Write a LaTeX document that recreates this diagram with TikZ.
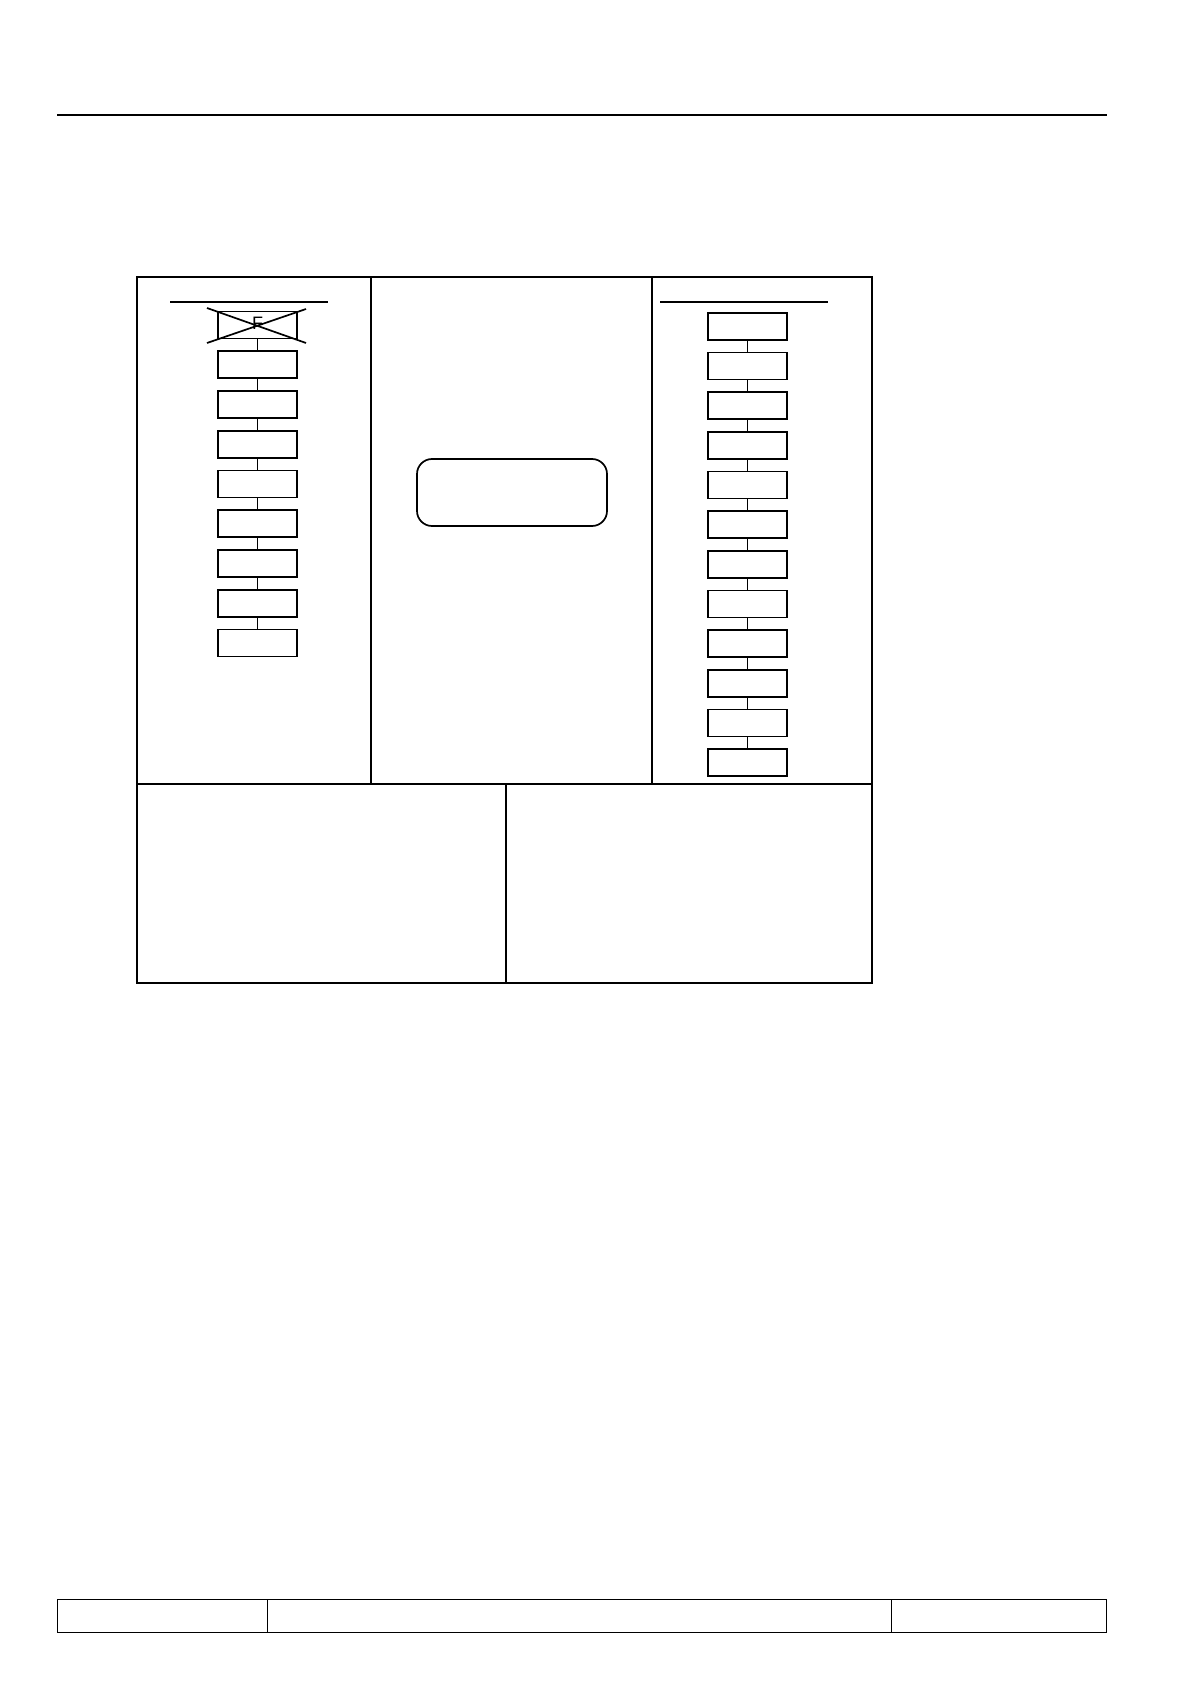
\documentclass[tikz,border=0pt]{standalone}
\usepackage{fontspec}
\setmainfont{Liberation Sans}
\begin{document}
\begin{tikzpicture}[x=0.5pt,y=-0.5pt,line width=0.85pt,
  blk/.style={draw,minimum width=39.5pt,minimum height=13.5pt,inner sep=0pt,outer sep=0pt},
  thin rule/.style={line width=0.5pt}]
\useasboundingbox (0,0) rectangle (1191,1684);

% page head rule
\draw[line width=1pt] (57,115) -- (1107,115);

% frame
\draw (137,277) rectangle (872,983);
\draw (137,784) -- (872,784);
\draw (371,277) -- (371,784);
\draw (652,277) -- (652,784);
\draw (506,784) -- (506,983);

% left column
\draw (170,302) -- (328,302);
\node[blk,font=\fontsize{9}{9}\selectfont] (l1) at (257.5,325) {\raisebox{1.5pt}{F}};
\draw (207,308) -- (306,343);
\draw (207,343) -- (306,309);
\node[blk] (l2) at (257.5,364.75) {};
\node[blk] (l3) at (257.5,404.5) {};
\node[blk] (l4) at (257.5,444.25) {};
\node[blk] (l5) at (257.5,484) {};
\node[blk] (l6) at (257.5,523.75) {};
\node[blk] (l7) at (257.5,563.5) {};
\node[blk] (l8) at (257.5,603.25) {};
\node[blk] (l9) at (257.5,643) {};
\draw (l1) -- (l2);
\draw (l2) -- (l3);
\draw (l3) -- (l4);
\draw (l4) -- (l5);
\draw (l5) -- (l6);
\draw (l6) -- (l7);
\draw (l7) -- (l8);
\draw (l8) -- (l9);

% middle
\node[draw,rounded corners=7.5pt,minimum width=95pt,minimum height=33.5pt] (mid) at (512,492.5) {};

% right column
\draw (660,302) -- (828,302);
\node[blk] (r1) at (747.5,326.5) {};
\node[blk] (r2) at (747.5,366.1) {};
\node[blk] (r3) at (747.5,405.8) {};
\node[blk] (r4) at (747.5,445.4) {};
\node[blk] (r5) at (747.5,485.1) {};
\node[blk] (r6) at (747.5,524.7) {};
\node[blk] (r7) at (747.5,564.3) {};
\node[blk] (r8) at (747.5,604) {};
\node[blk] (r9) at (747.5,643.6) {};
\node[blk] (r10) at (747.5,683.3) {};
\node[blk] (r11) at (747.5,722.9) {};
\node[blk] (r12) at (747.5,762.5) {};
\draw (r1) -- (r2);
\draw (r2) -- (r3);
\draw (r3) -- (r4);
\draw (r4) -- (r5);
\draw (r5) -- (r6);
\draw (r6) -- (r7);
\draw (r7) -- (r8);
\draw (r8) -- (r9);
\draw (r9) -- (r10);
\draw (r10) -- (r11);
\draw (r11) -- (r12);

% footer
\draw[thin rule] (57,1599) rectangle (1106,1632);
\draw[thin rule] (267,1599) -- (267,1632);
\draw[thin rule] (891,1599) -- (891,1632);
\end{tikzpicture}
\end{document}
